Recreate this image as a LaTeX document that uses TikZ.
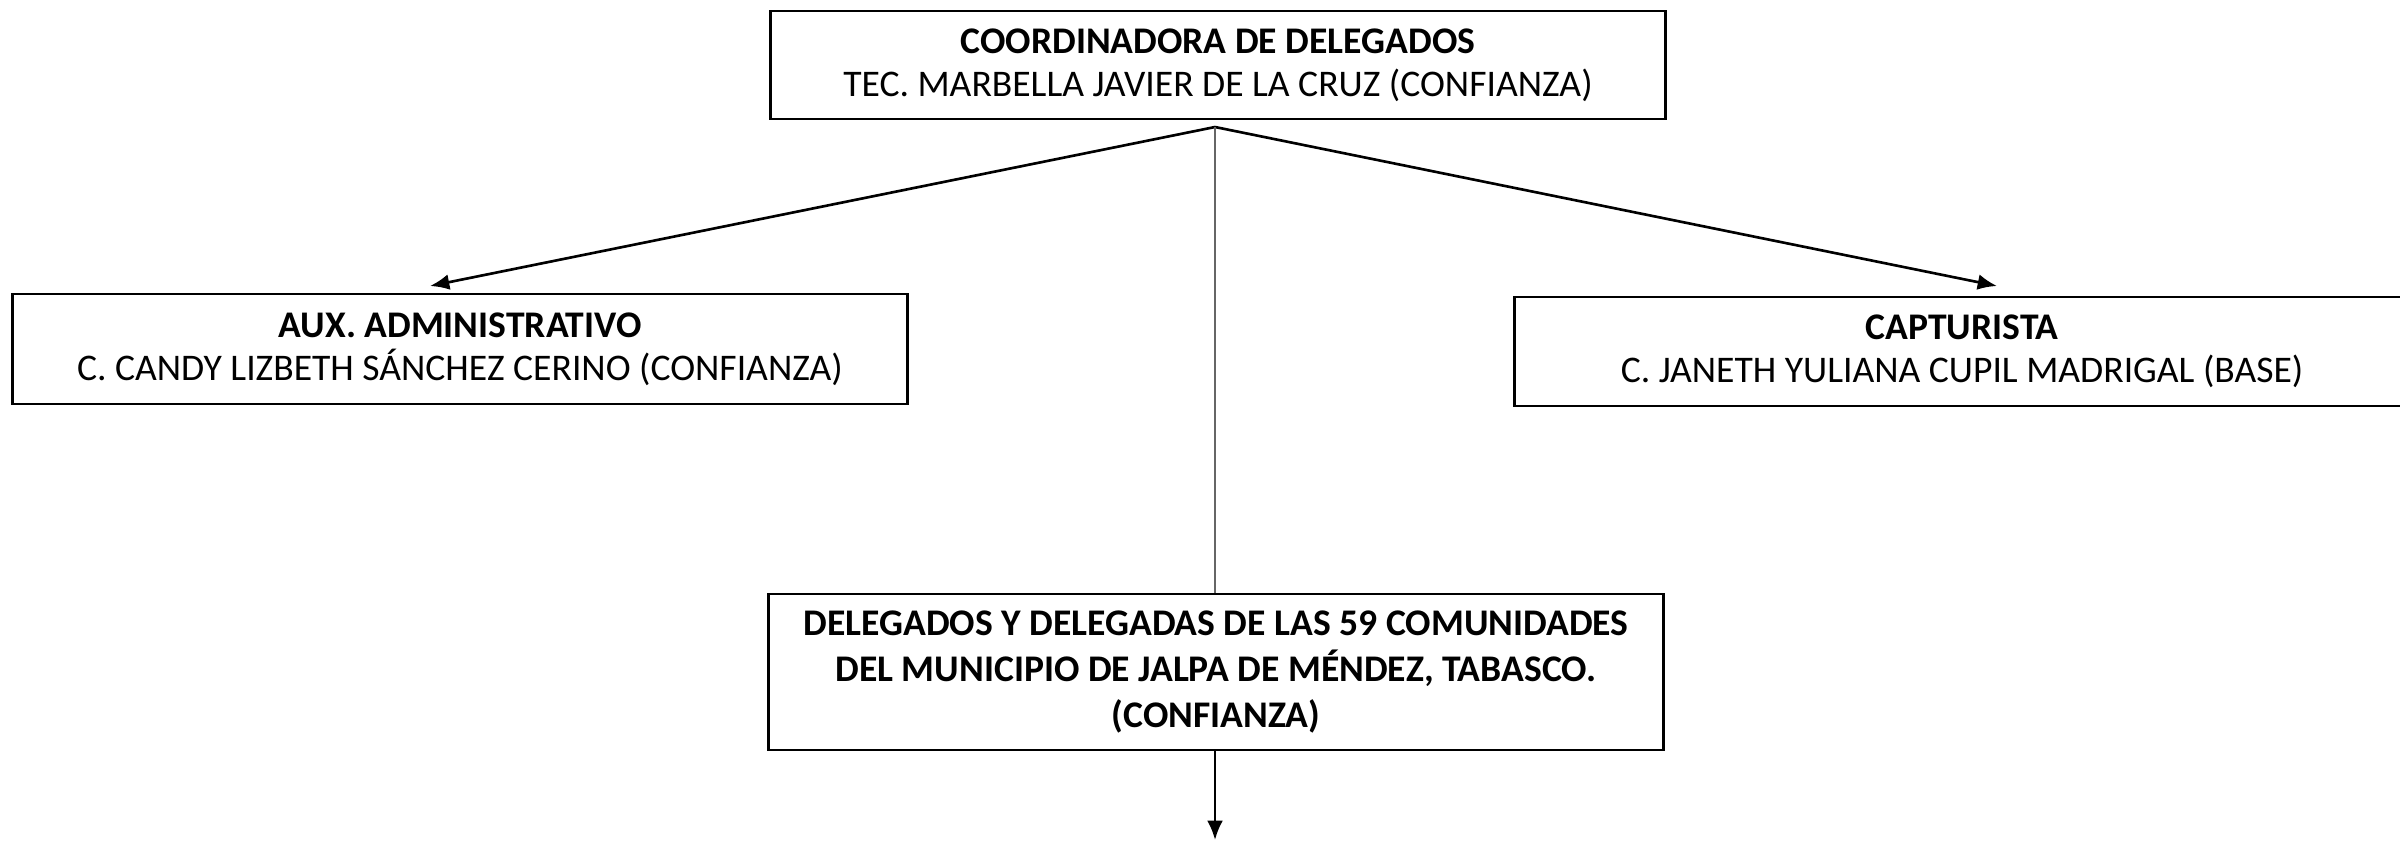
\documentclass[tikz,border=0pt]{standalone}
\usepackage{fontspec}
\setmainfont{Carlito}
\usetikzlibrary{arrows.meta, positioning}
\tikzset{
x=1cm, y=1cm,
>={Latex[length=5.5pt,width=4.5pt]}, % filled arrow heads
cargo/.style={draw=black, line width=0.6pt, rectangle, align=center, minimum width=8.95cm, font=\fontsize{10.7}{12.2}\selectfont, execute at begin node=\rule{0pt}{10.6pt}}, % every box of the chart
rama/.style={->, line width=0.75pt}, % the arrows
}

\begin{document}
\begin{tikzpicture}
      \useasboundingbox (0,0) rectangle (24,-8.42);
      \node[cargo, minimum height=1.08cm] (coord) at (12.18,-0.65) {\textbf{COORDINADORA DE DELEGADOS}\\TEC. MARBELLA JAVIER DE LA CRUZ (CONFIANZA)};
      \node[cargo, minimum height=1.10cm] (aux) at (4.60,-3.49) {\textbf{AUX. ADMINISTRATIVO}\\C. CANDY LIZBETH SÁNCHEZ CERINO (CONFIANZA)};
      \node[cargo, minimum height=1.09cm] (capt) at (19.62,-3.515) {\textbf{CAPTURISTA}\\C. JANETH YULIANA CUPIL MADRIGAL (BASE)};
      \node[cargo, minimum height=1.56cm, font=\fontsize{10.7}{13.1}\selectfont\bfseries] (deleg) at (12.16,-6.72) {DELEGADOS Y DELEGADAS DE LAS 59 COMUNIDADES\\DEL MUNICIPIO DE JALPA DE MÉNDEZ, TABASCO.\\(CONFIANZA)};

      \coordinate (apex) at (12.15,-1.27);
      \coordinate (tipaux) at (4.30,-2.86);
      \coordinate (tipcapt) at (19.97,-2.86);
      \coordinate (fin) at (12.15,-8.40);

      \draw[rama] (apex) -- (tipaux);
      \draw[rama] (apex) -- (tipcapt);
      \draw[gray!80!black, line width=0.5pt] (apex) -- (deleg.north -| apex);
      \draw[rama] (deleg.south -| apex) -- (fin);
    \end{tikzpicture}
\end{document}
